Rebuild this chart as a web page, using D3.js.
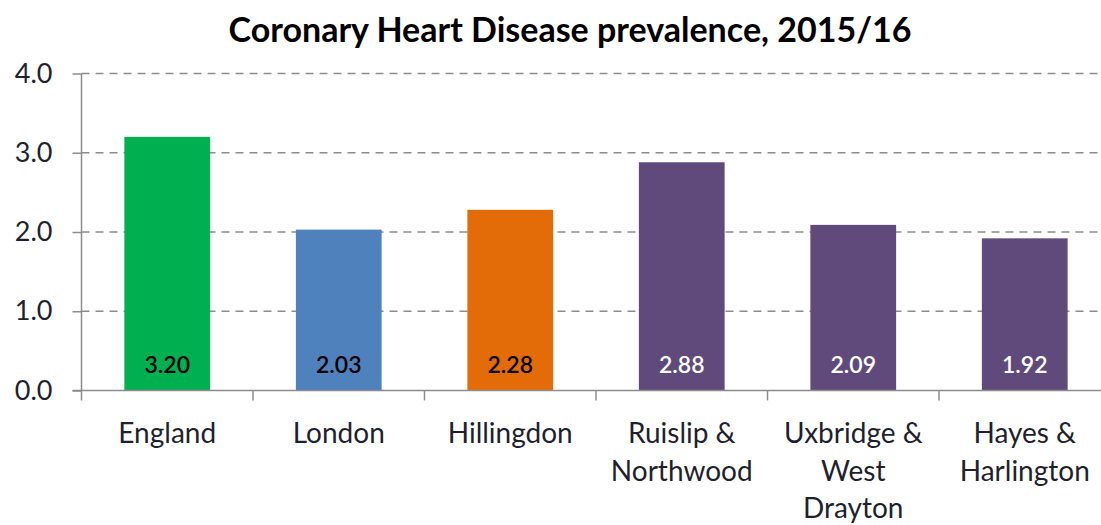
<!DOCTYPE html>
<html>
  <head>
    <meta charset="utf-8">
    <title>Coronary Heart Disease prevalence</title>
    <script src="https://cdn.jsdelivr.net/npm/d3@7"></script>
    <style>
      body { margin: 0; background: #fff; font-family: Lato, "Open Sans", sans-serif; }
      #chart { display: block; }
      .title { font-weight: bold; font-size: 34px; fill: #000; }
      .yaxis text { font-size: 27px; fill: #1f1f2e; }
      .xlabel { font-size: 28px; fill: #1f1f2e; }
      .grid line { stroke: #8c8c8c; stroke-width: 1.5; stroke-dasharray: 8 6; }
      .axisLine { stroke: #8c8c8c; stroke-width: 1.5; }
      .value { font-size: 23px; font-weight: 600; }
    </style>
  </head>

  <body>
    <svg id="chart" width="1101" height="525"></svg>

    <script>
      // data
      const areas = [["England"], ["London"], ["Hillingdon"], ["Ruislip &", "Northwood"],
                     ["Uxbridge &", "West", "Drayton"], ["Hayes &", "Harlington"]];
      const prevalence = [3.20, 2.03, 2.28, 2.88, 2.09, 1.92];
      const barColours = ["#00b050", "#4f81bd", "#e36c09", "#604a7b", "#604a7b", "#604a7b"];
      const labelColours = ["#000", "#000", "#000", "#fff", "#fff", "#fff"];
      const yTicks = [0, 1, 2, 3, 4];

      const chart = d3.select("#chart");
      const margin = { top: 73.5, left: 81.5, bottom: 390.5 };
      const plotRight = 81.5 + 6 * 171.5;

      const x = d3.scaleBand()
        .domain(d3.range(areas.length))
        .range([margin.left, plotRight])
        .paddingInner(0.5)
        .paddingOuter(0.25);

      const y = d3.scaleLinear()
        .domain([0, 4])
        .range([margin.bottom, margin.top]);

      // title
      chart.append("text")
        .attr("class", "title")
        .attr("x", 570)
        .attr("y", 42)
        .attr("text-anchor", "middle")
        .text("Coronary Heart Disease prevalence, 2015/16");

      // gridlines
      chart.append("g")
        .attr("class", "grid")
        .selectAll("line")
        .data(yTicks.filter(d => d > 0))
        .join("line")
          .attr("x1", margin.left)
          .attr("x2", plotRight)
          .attr("y1", d => y(d))
          .attr("y2", d => y(d));

      // y axis
      const yAxis = chart.append("g")
        .attr("class", "yaxis")
        .attr("transform", "translate(" + margin.left + ",0)")
        .call(d3.axisLeft(y).tickValues(yTicks).tickFormat(d3.format(".1f")).tickSize(9).tickPadding(20));
      yAxis.attr("font-family", null).attr("font-size", null);
      yAxis.selectAll("line, path").attr("stroke", "#8c8c8c").attr("stroke-width", 1.5);
      yAxis.select(".domain").attr("d", "M0," + y(4) + "V" + y(0));
      yAxis.selectAll("text").attr("fill", null);

      // bars
      chart.append("g")
        .selectAll("rect")
        .data(prevalence)
        .join("rect")
          .attr("x", (d, i) => x(i))
          .attr("width", x.bandwidth())
          .attr("y", d => y(d))
          .attr("height", d => y(0) - y(d))
          .attr("fill", (d, i) => barColours[i]);

      // value labels
      chart.append("g")
        .selectAll("text")
        .data(prevalence)
        .join("text")
          .attr("class", "value")
          .attr("x", (d, i) => x(i) + x.bandwidth() / 2)
          .attr("y", y(0) - 18)
          .attr("text-anchor", "middle")
          .attr("fill", (d, i) => labelColours[i])
          .text(d => d.toFixed(2));

      // x axis line and band ticks
      const step = x.step();
      chart.append("line")
        .attr("class", "axisLine")
        .attr("x1", margin.left - 9)
        .attr("x2", plotRight)
        .attr("y1", y(0))
        .attr("y2", y(0));
      chart.append("g")
        .selectAll("line")
        .data(d3.range(areas.length + 1))
        .join("line")
          .attr("class", "axisLine")
          .attr("x1", i => margin.left + i * step)
          .attr("x2", i => margin.left + i * step)
          .attr("y1", y(0))
          .attr("y2", y(0) + 10);

      // category labels
      chart.append("g")
        .selectAll("text")
        .data(areas)
        .join("text")
          .attr("class", "xlabel")
          .attr("text-anchor", "middle")
          .attr("x", (d, i) => x(i) + x.bandwidth() / 2)
          .attr("y", 443)
          .selectAll("tspan")
          .data(d => d)
          .join("tspan")
            .attr("x", function () { return this.parentNode.getAttribute("x"); })
            .attr("dy", (d, j) => j === 0 ? 0 : 37.5)
            .text(d => d);
    </script>
  </body>
</html>
